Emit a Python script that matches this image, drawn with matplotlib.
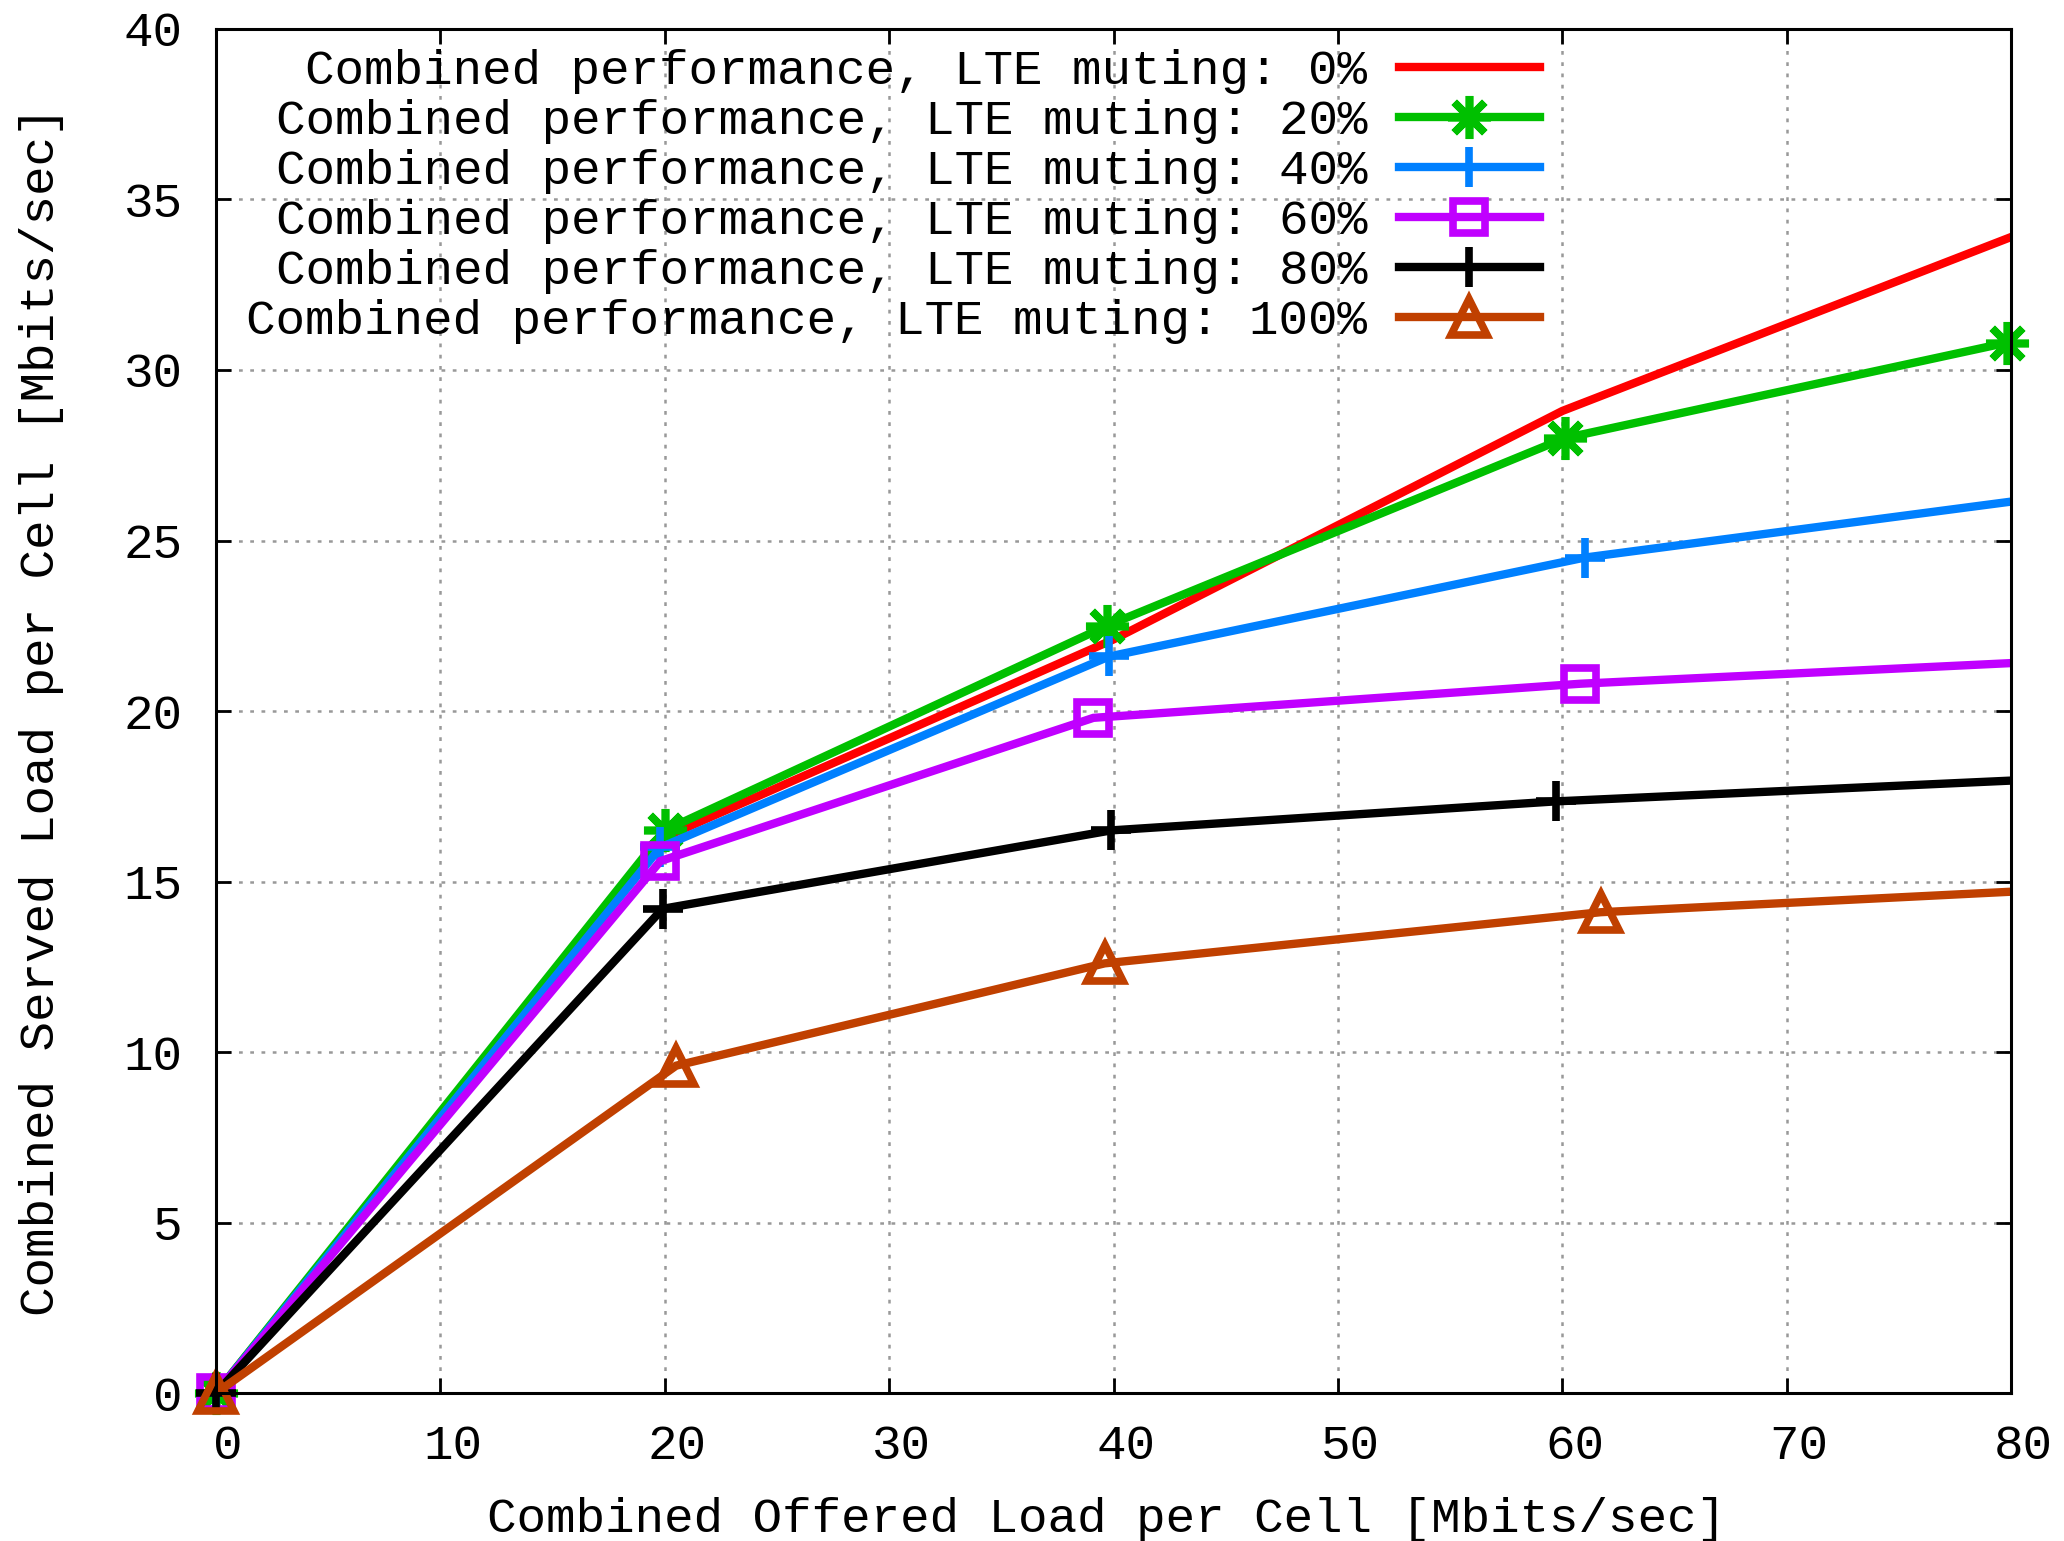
import numpy as np
import matplotlib
matplotlib.use("Agg")
import matplotlib.pyplot as plt
from matplotlib.transforms import ScaledTranslation

plt.rcParams["font.family"] = ["Liberation Mono", "DejaVu Sans Mono"]
plt.rcParams["font.size"] = 35.5

# offered load (x) and served load (y) per cell, Mbit/s, one pair per muting level
x_mute0 = [0, 20, 40, 60, 80]
y_mute0 = [0, 16.3, 22.1, 28.8, 33.9]
x_mute20 = [0, 20.0, 39.7, 60.1, 79.8]
y_mute20 = [0, 16.5, 22.5, 28.0, 30.8]
x_mute40 = [0, 19.8, 39.8, 61.0, 83]
y_mute40 = [0, 16.0, 21.6, 24.5, 26.4]
x_mute60 = [0, 19.8, 39.1, 60.8, 83]
y_mute60 = [0, 15.6, 19.8, 20.8, 21.5]
x_mute80 = [0, 19.9, 39.9, 59.7, 83]
y_mute80 = [0, 14.2, 16.5, 17.35, 18.05]
x_mute100 = [0, 20.5, 39.6, 61.7, 83]
y_mute100 = [0, 9.6, 12.6, 14.1, 14.8]

labels = ["Combined performance, LTE muting: 0%",
          "Combined performance, LTE muting: 20%",
          "Combined performance, LTE muting: 40%",
          "Combined performance, LTE muting: 60%",
          "Combined performance, LTE muting: 80%",
          "Combined performance, LTE muting: 100%"]

series = [(x_mute0, y_mute0), (x_mute20, y_mute20), (x_mute40, y_mute40),
          (x_mute60, y_mute60), (x_mute80, y_mute80), (x_mute100, y_mute100)]
colors = ["#ff0000", "#00c000", "#0080ff", "#c000ff", "#000000", "#c04000"]
markers = [None, (8, 2, 0), "+", "s", "+", "^"]
msizes = [0, 31, 29, 23, 29, 26]

fig = plt.figure(figsize=(20.64, 15.41), dpi=100)
ax = fig.add_axes([0.1047, 0.0960, 0.8697, 0.8852])

handles = []
for (xs, ys), lab, c, m, ms in zip(series, labels, colors, markers, msizes):
    xs = np.array(xs)
    ys = np.array(ys)
    line, = ax.plot(xs, ys, color=c, lw=6, solid_joinstyle="miter")
    if m is None:
        handles.append(line)
        continue
    # points are drawn on top of the frame, those past the x range are dropped
    keep = xs <= 80
    pts, = ax.plot(xs[keep], ys[keep], ls="none", marker=m, ms=ms,
                   mec=c, mfc="none", mew=5.5, clip_on=False)
    handles.append((line, pts))

ax.set_xlim(0, 80)
ax.set_ylim(0, 40)
ax.set_xticks(np.arange(0, 81, 10))
ax.set_yticks(np.arange(0, 41, 5))
ax.grid(True, color="#999999", lw=1.8, ls=(0, (1.5, 3.0)))
ax.set_axisbelow(True)
ax.tick_params(direction="in", length=11, width=2, top=True, right=True)
ax.tick_params(axis="y", pad=24)
ax.tick_params(axis="x", pad=22)
for sp in ax.spines.values():
    sp.set_linewidth(2.2)

shift = ScaledTranslation(0.12, 0, fig.dpi_scale_trans)
for lbl in ax.get_xticklabels():
    lbl.set_transform(lbl.get_transform() + shift)

ax.set_xlabel("Combined Offered Load per Cell [Mbits/sec]", va="center")
ax.xaxis.set_label_coords(0.496, -0.093)
ax.set_ylabel("Combined Served Load per Cell [Mbits/sec]", va="center")
ax.yaxis.set_label_coords(-0.097, 0.5)

ax.legend(handles, labels, loc="upper right", markerfirst=False, frameon=False,
          bbox_to_anchor=(0.746, 0.968), bbox_transform=fig.transFigure,
          borderpad=0, borderaxespad=0, handlelength=2.85, handletextpad=0.65,
          labelspacing=0.1)

fig.savefig("out.png", dpi=100)
